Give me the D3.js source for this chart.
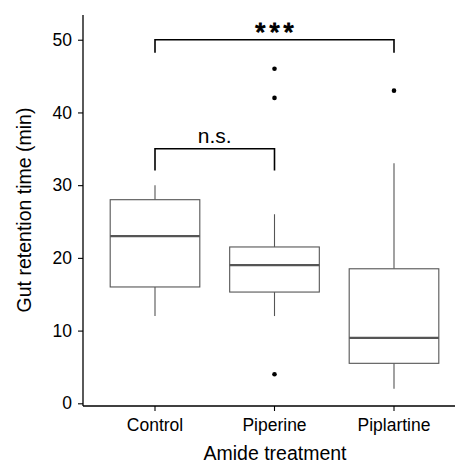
<!DOCTYPE html>
<html lang="en">
<head>
    <meta charset="UTF-8">
    <title>Gut retention time</title>
    <script src="https://d3js.org/d3.v7.min.js"></script>
    <style>
        body {
            margin: 0;
            background: #ffffff;
        }
        svg {
            display: block;
            font-family: "Liberation Sans", Arial, sans-serif;
        }
    </style>
</head>
<body>
    <svg width="455" height="463"></svg>
    <script>
        // data
        const treatments = ["Control", "Piperine", "Piplartine"];
        const lowerWhisker = [12, 12, 2];
        const q1 = [16, 15.3, 5.5];
        const medians = [23, 19, 9];
        const q3 = [28, 21.5, 18.5];
        const upperWhisker = [30, 26, 33];
        const outliers = [[], [46, 42, 4], [43]];
        const yTicks = [0, 10, 20, 30, 40, 50];

        // significance brackets
        const brackets = [
            { from: "Control", to: "Piperine", y: 35, drop: 32, label: "n.s." },
            { from: "Control", to: "Piplartine", y: 50, drop: 48.2, label: "***" }
        ];

        const margin = { top: 15, right: 0, bottom: 57, left: 83 };
        const width = 455;
        const height = 463;
        const axisBottom = height - margin.bottom;

        const svg = d3.select("svg");

        // one category step is about 119.5px, first centre at x=155
        const x = d3.scaleBand()
            .domain(treatments)
            .range([95.25, 95.25 + 3 * 119.5])
            .padding(0);
        const cx = d => x(d) + x.bandwidth() / 2;
        const boxW = x.bandwidth() * 0.75;

        const y = d3.scaleLinear()
            .domain([-0.37, 53.4])
            .range([axisBottom, margin.top]);

        const boxColor = "#555555";

        // boxes
        const g = svg.append("g");
        treatments.forEach((t, i) => {
            const c = cx(t);
            g.append("line")
                .attr("x1", c).attr("x2", c)
                .attr("y1", y(q3[i])).attr("y2", y(upperWhisker[i]))
                .attr("stroke", boxColor).attr("stroke-width", 1.1);
            g.append("line")
                .attr("x1", c).attr("x2", c)
                .attr("y1", y(q1[i])).attr("y2", y(lowerWhisker[i]))
                .attr("stroke", boxColor).attr("stroke-width", 1.1);
            g.append("rect")
                .attr("x", c - boxW / 2)
                .attr("y", y(q3[i]))
                .attr("width", boxW)
                .attr("height", y(q1[i]) - y(q3[i]))
                .attr("fill", "white")
                .attr("stroke", boxColor)
                .attr("stroke-width", 1.1);
            g.append("line")
                .attr("x1", c - boxW / 2).attr("x2", c + boxW / 2)
                .attr("y1", y(medians[i])).attr("y2", y(medians[i]))
                .attr("stroke", boxColor).attr("stroke-width", 2.2);
            outliers[i].forEach(v => {
                g.append("circle")
                    .attr("cx", c).attr("cy", y(v))
                    .attr("r", 2.3)
                    .attr("fill", "black");
            });
        });

        // brackets
        brackets.forEach(b => {
            const x1 = cx(b.from), x2 = cx(b.to);
            svg.append("path")
                .attr("d", `M${x1},${y(b.drop)}V${y(b.y)}H${x2}V${y(b.drop)}`)
                .attr("fill", "none")
                .attr("stroke", "black")
                .attr("stroke-width", 1.6);
            const stars = b.label === "***";
            svg.append("text")
                .attr("x", (x1 + x2) / 2 + (stars ? 2 : 0))
                .attr("y", stars ? y(b.y) + 1 : y(b.y) - 6)
                .attr("text-anchor", "middle")
                .attr("font-size", stars ? 26 : 21)
                .attr("letter-spacing", stars ? 4 : 0)
                .attr("stroke", stars ? "black" : "none")
                .attr("stroke-width", stars ? 1.2 : 0)
                .attr("fill", "black")
                .text(b.label);
        });

        // axis lines
        svg.append("line")
            .attr("x1", margin.left).attr("x2", width)
            .attr("y1", axisBottom).attr("y2", axisBottom)
            .attr("stroke", "black").attr("stroke-width", 1.3);
        svg.append("line")
            .attr("x1", margin.left).attr("x2", margin.left)
            .attr("y1", margin.top).attr("y2", axisBottom)
            .attr("stroke", "black").attr("stroke-width", 1.3);

        const yAxis = svg.append("g")
            .attr("transform", `translate(${margin.left},0)`)
            .call(d3.axisLeft(y).tickValues(yTicks).tickSize(5).tickPadding(6));
        yAxis.select(".domain").remove();
        yAxis.selectAll("line").attr("stroke", "black").attr("stroke-width", 1.1);
        yAxis.selectAll("text").attr("font-size", 17.5).attr("fill", "black")
            .attr("font-family", "'Liberation Sans', Arial, sans-serif");

        const xAxis = svg.append("g")
            .attr("transform", `translate(0,${axisBottom})`)
            .call(d3.axisBottom(x).tickSize(5).tickPadding(8));
        xAxis.select(".domain").remove();
        xAxis.selectAll("line").attr("stroke", "black").attr("stroke-width", 1.1);
        xAxis.selectAll("text").attr("font-size", 17.5).attr("fill", "black")
            .attr("font-family", "'Liberation Sans', Arial, sans-serif");

        // axis titles
        svg.append("text")
            .attr("x", 275)
            .attr("y", 460)
            .attr("text-anchor", "middle")
            .attr("font-size", 19.5)
            .text("Amide treatment");
        svg.append("text")
            .attr("transform", `translate(31,210) rotate(-90)`)
            .attr("text-anchor", "middle")
            .attr("font-size", 19.5)
            .text("Gut retention time (min)");
    </script>
</body>
</html>
